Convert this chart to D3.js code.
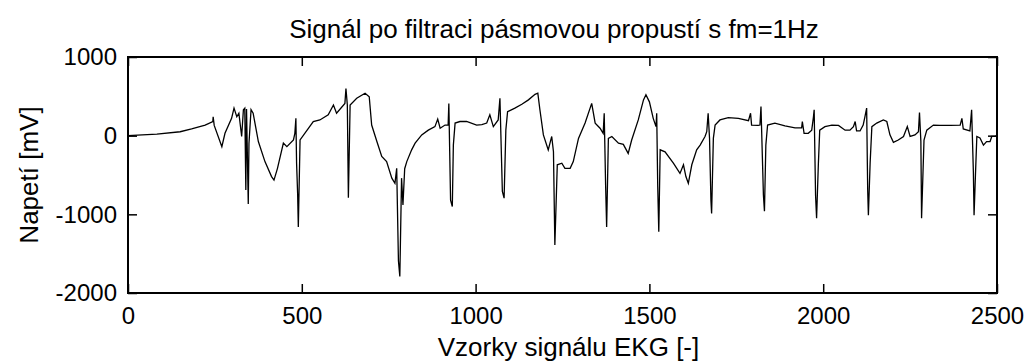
<!DOCTYPE html>
<html>
<head>
<meta charset="utf-8">
<script src="https://cdn.jsdelivr.net/npm/d3@7/dist/d3.min.js"></script>
<style>
  html, body { margin: 0; padding: 0; background: #fff; }
  svg text { font-family: "Liberation Sans", Arial, sans-serif; fill: #000; }
</style>
</head>
<body>
<svg id="chart" width="1026" height="364"></svg>
<script>
// ECG trace after band-pass filtering (sample index, voltage in mV)
const samples = [
  0, 83, 150, 183, 222, 244, 245, 248, 270, 279, 298, 305, 313, 319, 327, 332, 336, 339, 341, 346, 348, 354, 360, 375, 394, 413,
  420, 430, 447, 457, 476, 480, 483, 485, 488, 490, 495, 533, 552, 576, 591, 600, 624, 627, 631, 634, 639, 658, 682, 694, 701,
  716, 730, 744, 759, 768, 773, 778, 782, 787, 791, 796, 802, 816,
  826, 845, 864, 883, 891, 898, 912, 921, 923, 928, 933, 936, 941, 955, 974, 1003, 1018, 1032, 1041, 1051, 1065, 1070, 1077,
  1082, 1087, 1092, 1113, 1133, 1152, 1171, 1179, 1185, 1195, 1209, 1219, 1224, 1228, 1235, 1248,
  1257, 1272, 1281, 1296, 1315, 1334, 1344, 1358, 1367, 1370, 1374, 1377, 1382, 1392, 1411, 1425, 1439, 1449, 1468, 1483,
  1490, 1500, 1511, 1519, 1521, 1524, 1527, 1531, 1545, 1569, 1588, 1598, 1605, 1612, 1622, 1636, 1646, 1660, 1665,
  1669, 1673, 1677, 1679, 1684, 1689, 1703, 1727, 1756, 1785, 1791, 1794, 1813, 1818, 1821, 1828, 1831, 1835, 1840, 1861,
  1890, 1919, 1938, 1940, 1945, 1957, 1967, 1972, 1974, 1978, 1981, 1986, 1990, 2005, 2025, 2044, 2063, 2077,
  2087, 2092, 2096, 2106, 2115, 2120, 2125, 2127, 2128, 2130, 2135, 2140, 2154, 2173, 2183, 2192, 2202, 2216, 2231, 2242,
  2250, 2264, 2274, 2277, 2281, 2283, 2290, 2298, 2317, 2336, 2365, 2394, 2399, 2403, 2422, 2427, 2432, 2434, 2438, 2442,
  2451, 2461, 2470, 2480, 2485, 2494, 2500
];
const voltage = [
  0, 20, 50, 85, 135, 180, 240, 130, -140, 30, 220, 350, 240, 285, -10, 330, 350, -690, 340, -870, -100, 330, 285, -75, -330, -520,
  -565, -415, -95, -140, -55, 30, 220, -350, -735, -1160, -55, 180, 200, 265, 390, 285, 410, 600, 390, -790, 390, 475, 540, 495, 135,
  -75, -265, -330, -540, -605, -415, -1590, -1790, -540, -880, -420, -330, -180,
  -95, 10, 70, 115, 210, 95, 135, 135, 410, -820, -900, -120, 160, 180, 180, 135, 140, 160, 265, 115, 200, 475, -710,
  -795, 70, 305, 350, 400, 455, 525, 540, 330, 10, -180, -10, -205, -1390, -370, -350,
  -415, -415, -330, -35, 160, 410, 160, 95, 30, 285, -625, -1160, -35, -10, -95, -110, -225, -55, 200, 455,
  520, 430, 220, 115, 285, -650, -1220, -180, -205, -350, -480, -370, -520, -605, -370, -180, -120, -10, 50,
  285, -35, -820, -990, -35, 135, 200, 230, 220, 190, 285, 135, 130, 135, 370, -755, -960, -120, 135, 160,
  125, 100, 100, 180, 30, 30, 70, 240, 330, -755, -1050, -370, 70, 115, 135, 130, 70, 70,
  115, 180, 60, 60, 135, 240, 350, -350, -690, -1010, -350, 115, 160, 200, 180, 10, -85, -55, -10, 115,
  -10, 10, 50, 295, -75, -1050, -55, 70, 135, 130, 130, 135, 220, 85, 60, 330, -460, -1010, -500, -10,
  -30, -120, -75, -75, -10, -10, 0
];

const xTicks = [0, 500, 1000, 1500, 2000, 2500];
const yTicks = [-2000, -1000, 0, 1000];

const titleText = "Signál po filtraci pásmovou propustí s fm=1Hz";
const xLabelText = "Vzorky signálu EKG [-]";
const yLabelText = "Napetí [mV]";

const svg = d3.select("#chart");
const plotLeft = 128, plotRight = 997, plotTop = 57, plotBottom = 293;

const x = d3.scaleLinear().domain([0, 2500]).range([plotLeft, plotRight]);
const y = d3.scaleLinear().domain([-2000, 1000]).range([plotBottom, plotTop]);

const tickLen = 9;
const plainNumber = d => String(d);   // ASCII hyphen for negatives

// signal trace
const line = d3.line().x(d => x(d[0])).y(d => y(d[1]));
svg.append("path")
  .datum(d3.zip(samples, voltage))
  .attr("d", line)
  .attr("fill", "none")
  .attr("stroke", "#000")
  .attr("stroke-width", 1.3)
  .attr("stroke-linejoin", "miter");

function styleAxis(g, fontSize) {
  g.select(".domain").remove();
  g.selectAll(".tick line").attr("stroke", "#000").attr("stroke-width", 1.5);
  g.selectAll(".tick text").attr("font-size", fontSize).attr("font-family", "Liberation Sans, Arial, sans-serif").attr("fill", "#000");
}

// bottom axis with labels, ticks pointing inward
svg.append("g")
  .attr("transform", `translate(0,${plotBottom})`)
  .call(d3.axisBottom(x).tickValues(xTicks).tickSize(-tickLen).tickPadding(14).tickFormat(plainNumber))
  .call(g => styleAxis(g, 24));

// top axis, ticks only
svg.append("g")
  .attr("transform", `translate(0,${plotTop})`)
  .call(d3.axisTop(x).tickValues(xTicks).tickSize(-tickLen).tickFormat(""))
  .call(g => styleAxis(g, 24));

// left axis with labels
svg.append("g")
  .attr("transform", `translate(${plotLeft},0)`)
  .call(d3.axisLeft(y).tickValues(yTicks).tickSize(-tickLen).tickPadding(11).tickFormat(plainNumber))
  .call(g => styleAxis(g, 24));

// right axis, ticks only
svg.append("g")
  .attr("transform", `translate(${plotRight},0)`)
  .call(d3.axisRight(y).tickValues(yTicks).tickSize(-tickLen).tickFormat(""))
  .call(g => styleAxis(g, 24));

// axes box
svg.append("rect")
  .attr("x", plotLeft).attr("y", plotTop)
  .attr("width", plotRight - plotLeft).attr("height", plotBottom - plotTop)
  .attr("fill", "none").attr("stroke", "#000").attr("stroke-width", 2);

// title and axis labels
svg.append("text")
  .attr("x", 554).attr("y", 38)
  .attr("text-anchor", "middle").attr("font-size", 26)
  .text(titleText);

svg.append("text")
  .attr("x", (plotLeft + plotRight) / 2 + 6).attr("y", 356)
  .attr("text-anchor", "middle").attr("font-size", 26)
  .text(xLabelText);

svg.append("text")
  .attr("transform", `translate(38,${(plotTop + plotBottom) / 2}) rotate(-90)`)
  .attr("text-anchor", "middle").attr("font-size", 26)
  .text(yLabelText);
</script>
</body>
</html>
